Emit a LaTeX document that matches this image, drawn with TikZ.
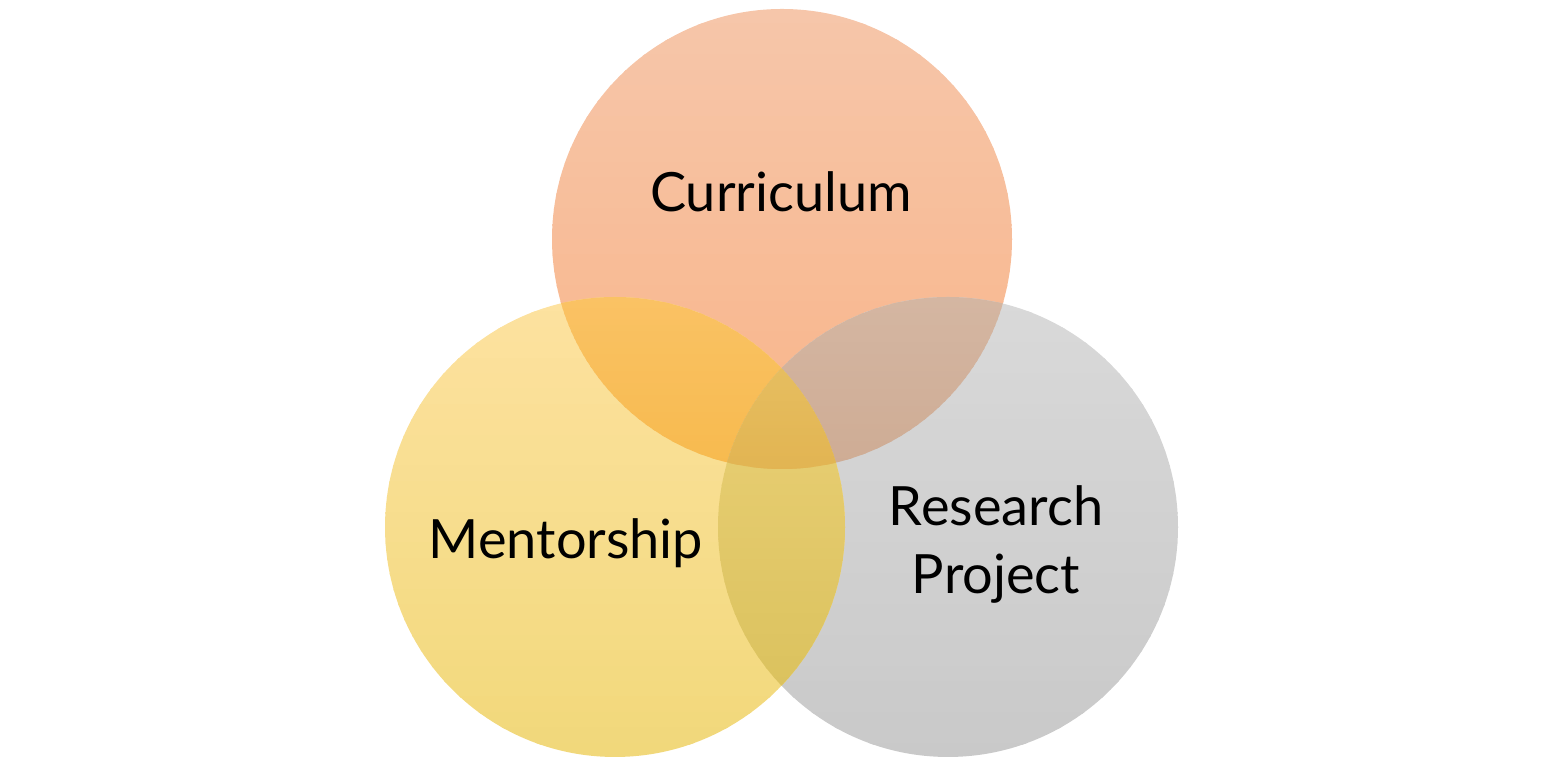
\documentclass[tikz,border=0pt]{standalone}
\usepackage{fontspec}
\setmainfont{Lato}
\usepackage{tikz}
\usetikzlibrary{calc}

% single circles
\definecolor{curtop}{RGB}{246,198,170}
\definecolor{curbot}{RGB}{249,180,136}
\definecolor{mentop}{RGB}{253,226,160}
\definecolor{menbot}{RGB}{241,216,122}
\definecolor{restop}{RGB}{217,217,217}
\definecolor{resbot}{RGB}{201,201,201}
% overlaps
\definecolor{cmtop}{RGB}{250,194,100}
\definecolor{cmbot}{RGB}{247,186,78}
\definecolor{crtop}{RGB}{212,182,162}
\definecolor{crbot}{RGB}{206,172,148}
\definecolor{mrtop}{RGB}{234,208,118}
\definecolor{mrbot}{RGB}{219,194,94}
\definecolor{alltop}{RGB}{230,190,96}
\definecolor{allbot}{RGB}{226,180,82}

% vertical gradient made of bands: top, bottom, x0, x1, y0, y1
\newcommand{\bandfill}[6]{%
    \foreach \k in {0,...,29}{
        \pgfmathtruncatemacro{\pct}{100*(\k+0.5)/30}
        \pgfmathsetmacro{\ya}{#6-(#6-#5)*\k/30}
        \pgfmathsetmacro{\yb}{#6-(#6-#5)*(\k+1)/30-0.02}
        \fill[#2!\pct!#1] (#3,\ya) rectangle (#4,\yb);
    }}

\tikzset{
    label/.style={align=center, font=\fontsize{15.4}{19.4}\selectfont, text=black}
}

\begin{document}
\begin{tikzpicture}
    \useasboundingbox (0,0) rectangle (15.64,7.66);

    \coordinate (C) at (7.82,5.27);
    \coordinate (M) at (6.15,2.39);
    \coordinate (R) at (9.48,2.39);

    \def\radius{2.30};

    % Curriculum
    \begin{scope}
        \clip (C) circle (\radius);
        \bandfill{curtop}{curbot}{5.4}{10.3}{2.96}{7.58}
    \end{scope}

    % Research Project
    \begin{scope}
        \clip (R) circle (\radius);
        \bandfill{restop}{resbot}{7.1}{11.9}{0.08}{4.70}
    \end{scope}

    % Mentorship
    \begin{scope}
        \clip (M) circle (\radius);
        \bandfill{mentop}{menbot}{3.8}{8.5}{0.08}{4.70}
    \end{scope}

    % Curriculum & Mentorship
    \begin{scope}
        \clip (C) circle (\radius);
        \clip (M) circle (\radius);
        \bandfill{cmtop}{cmbot}{5.4}{8.5}{2.96}{4.70}
    \end{scope}

    % Curriculum & Research Project
    \begin{scope}
        \clip (C) circle (\radius);
        \clip (R) circle (\radius);
        \bandfill{crtop}{crbot}{7.1}{10.3}{2.96}{4.70}
    \end{scope}

    % Mentorship & Research Project
    \begin{scope}
        \clip (M) circle (\radius);
        \clip (R) circle (\radius);
        \bandfill{mrtop}{mrbot}{7.0}{8.7}{0.78}{4.00}
    \end{scope}

    % All three
    \begin{scope}
        \clip (C) circle (\radius);
        \clip (M) circle (\radius);
        \clip (R) circle (\radius);
        \bandfill{alltop}{allbot}{7.0}{8.7}{2.96}{4.00}
    \end{scope}

    % Labels
    \node[label] (cur) at ($(C)+(-0.01,0.47)$) {Curriculum};
    \node[label] (men) at ($(M)+(-0.49,-0.16)$) {Mentorship};
    \node[label] (res) at ($(R)+(0.48,-0.175)$) {Research\\Project};

\end{tikzpicture}
\end{document}
